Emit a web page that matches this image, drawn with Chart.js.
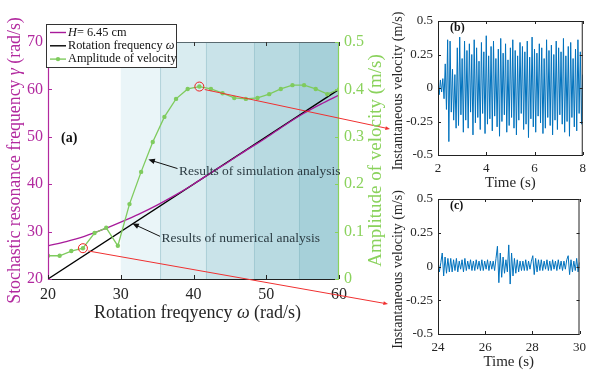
<!DOCTYPE html>
<html>
<head>
<meta charset="utf-8">
<script src="https://cdn.jsdelivr.net/npm/chart.js@4.4.1/dist/chart.umd.min.js"></script>
<style>
  html, body { margin: 0; padding: 0; background: #fff; }
  #wrap { position: relative; width: 592px; height: 372px; overflow: hidden; background: #fff; }
  canvas { position: absolute; }
</style>
</head>
<body>
<div id="wrap">
  <canvas id="mainChart" width="395" height="372" style="left:0;top:0;width:395px;height:372px"></canvas>
  <canvas id="chartB" width="202" height="190" style="left:390px;top:0;width:202px;height:190px"></canvas>
  <canvas id="chartC" width="202" height="187" style="left:390px;top:185px;width:202px;height:187px"></canvas>
</div>
<script>
// ---- data ----
let omega = [20, 21.6, 23.2, 24.8, 26.4, 28, 29.6, 31.2, 32.8, 34.4, 36, 37.6, 39.2,
             40.8, 42.4, 44, 45.6, 47.2, 48.8, 50.4, 52, 53.6, 55.2, 56.8, 58.4, 60];
let amplitude = [0.049, 0.049, 0.059, 0.065, 0.097, 0.108, 0.070, 0.158, 0.226, 0.289, 0.342, 0.380, 0.401,
                 0.406, 0.401, 0.392, 0.382, 0.380, 0.382, 0.390, 0.401, 0.409, 0.409, 0.401, 0.390, 0.400];

let gammaOmega = [20, 22.5, 25, 27.5, 30, 32.5, 35, 37.5, 40, 42.5, 45, 47.5, 50, 52.5, 55, 57.5, 60];
let gammaH645 = [27.0, 27.9, 29.0, 30.4, 32.0, 33.7, 35.6, 37.7, 40.0, 42.5, 44.9, 47.4, 49.8, 52.4, 54.8, 56.9, 58.8];

let rotOmega = [20, 60];
let rotFreq = [20, 60];

let bandEdges = [30, 35.4, 41.7, 48.3, 54.5, 60];
let bandColors = ['#eaf5f8', '#d9ecf0', '#c9e3e9', '#b8dae1', '#a6d0d9'];

let xTicksMain = [20, 30, 40, 50, 60];
let circled = [3, 13]; // indices of the circled amplitude points

// panel (b): t = 2 .. 8 s
let tStartB = 2, dtB = 0.05;
let velB = [0.04, -0.05, 0.06, -0.03, 0.07, -0.08, 0.18, -0.16, 0.36, -0.40, 0.35, -0.18, 0.14, -0.24, 0.10, -0.30,
  0.30, -0.28, 0.38, -0.20, 0.22, -0.33, 0.35, -0.24, 0.28, -0.30, 0.33, -0.18, 0.25, -0.35, 0.36, -0.26, 0.30, -0.22, 0.20, -0.31,
  0.34, -0.19, 0.27, -0.34, 0.39, -0.27, 0.24, -0.23, 0.31, -0.32, 0.35, -0.21, 0.22, -0.29, 0.29, -0.36, 0.37, -0.25, 0.26, -0.20,
  0.33, -0.33, 0.21, -0.28, 0.30, -0.22, 0.36, -0.30, 0.28, -0.35, 0.24, -0.24, 0.34, -0.19, 0.31, -0.31, 0.27, -0.27, 0.35, -0.37,
  0.23, -0.23, 0.38, -0.29, 0.29, -0.33, 0.26, -0.21, 0.33, -0.26, 0.30, -0.34, 0.22, -0.30, 0.36, -0.22, 0.28, -0.28, 0.32, -0.35,
  0.25, -0.24, 0.35, -0.31, 0.30, -0.20, 0.27, -0.27, 0.37, -0.33, 0.24, -0.25, 0.31, -0.36, 0.34, -0.22, 0.22, -0.29, 0.29, -0.32,
  0.36, -0.19, 0.27, -0.27, 0.10];

// panel (c): t = 24 .. 30 s
let tStartC = 24, dtC = 0.06;
let velC = [0.05, -0.04, 0.03, 0.10, -0.07, 0.07, -0.05, 0.06, -0.04, 0.06,
  -0.04, 0.05, -0.03, 0.06, -0.04, 0.04, -0.02, 0.05, -0.04, 0.06,
  -0.03, 0.04, -0.02, 0.05, -0.03, 0.04, -0.03, 0.05, -0.02, 0.04,
  -0.03, 0.05, -0.03, 0.04, -0.02, 0.05, -0.03, 0.04, -0.02, 0.04,
  -0.03, 0.06, 0.15, -0.12, 0.10, -0.08, 0.07, -0.05, 0.05, -0.04,
  0.16, -0.13, 0.10, -0.07, 0.06, -0.05, 0.05, -0.04, 0.04, -0.03,
  0.04, -0.03, 0.05, -0.03, 0.04, -0.02, 0.04, 0.08, -0.06, 0.06,
  -0.04, 0.05, -0.03, 0.05, -0.03, 0.04, -0.02, 0.05, -0.03, 0.04,
  -0.03, 0.05, -0.02, 0.04, -0.03, 0.05, -0.02, 0.04, -0.03, 0.04,
  -0.02, 0.05, 0.08, -0.06, 0.05, -0.04, 0.04, -0.03, 0.06, -0.04,
  0.03];

let velTicks = [-0.5, -0.25, 0, 0.25, 0.5];

// ---- styles ----
let serif = "'Liberation Serif', 'Times New Roman', serif";
let purple = '#b22a9f';
let purpleLine = '#a81a9a';
let green = '#8ad25c';
let greenLine = '#7fcb5e';
let textDark = '#262626';
let blue = '#0072bd';

function pairs(xs, ys) {
    return xs.map(function (x, i) { return { x: x, y: ys[i] }; });
}

// draws text made of [string, italic] pieces
function drawParts(ctx, parts, x, y, size, color, opts) {
    opts = opts || {};
    ctx.save();
    ctx.translate(x, y);
    if (opts.rotate) ctx.rotate(-Math.PI / 2);
    ctx.fillStyle = color;
    ctx.textBaseline = 'middle';
    ctx.textAlign = 'left';
    let weight = opts.bold ? 'bold ' : '';
    let widths = parts.map(function (p) {
        ctx.font = (p[1] ? 'italic ' : '') + weight + size + 'px ' + serif;
        return ctx.measureText(p[0]).width;
    });
    let total = widths.reduce(function (s, w) { return s + w; }, 0);
    let cx = opts.left ? 0 : -total / 2;
    parts.forEach(function (p, i) {
        ctx.font = (p[1] ? 'italic ' : '') + weight + size + 'px ' + serif;
        ctx.fillText(p[0], cx, 0);
        cx += widths[i];
    });
    ctx.restore();
}

function arrow(ctx, x0, y0, x1, y1, color, width, head) {
    let ang = Math.atan2(y1 - y0, x1 - x0);
    ctx.save();
    ctx.strokeStyle = color;
    ctx.fillStyle = color;
    ctx.lineWidth = width;
    ctx.beginPath();
    ctx.moveTo(x0, y0);
    ctx.lineTo(x1 - Math.cos(ang) * head * 0.6, y1 - Math.sin(ang) * head * 0.6);
    ctx.stroke();
    ctx.beginPath();
    ctx.moveTo(x1, y1);
    ctx.lineTo(x1 - head * Math.cos(ang - 0.4), y1 - head * Math.sin(ang - 0.4));
    ctx.lineTo(x1 - head * Math.cos(ang + 0.4), y1 - head * Math.sin(ang + 0.4));
    ctx.closePath();
    ctx.fill();
    ctx.restore();
}

function line(ctx, x0, y0, x1, y1, color, w) {
    ctx.strokeStyle = color;
    ctx.lineWidth = w;
    ctx.beginPath();
    ctx.moveTo(x0, y0);
    ctx.lineTo(x1, y1);
    ctx.stroke();
}

// ---- main panel (a) ----
let mainDecor = {
    id: 'mainDecor',
    beforeDatasetsDraw: function (chart) {
        let ctx = chart.ctx, a = chart.chartArea, x = chart.scales.x;
        ctx.save();
        for (let i = 0; i < bandColors.length; i++) {
            let x0 = x.getPixelForValue(bandEdges[i]);
            let x1 = x.getPixelForValue(bandEdges[i + 1]);
            ctx.fillStyle = bandColors[i];
            ctx.fillRect(x0, a.top, x1 - x0, a.bottom - a.top);
            if (i > 0) line(ctx, x0 + 0.5, a.top, x0 + 0.5, a.bottom, 'rgba(130,180,190,0.45)', 1);
        }
        ctx.restore();
    },
    afterDatasetsDraw: function (chart) {
        let ctx = chart.ctx, a = chart.chartArea;
        let x = chart.scales.x, yL = chart.scales.yL, yR = chart.scales.yR;
        ctx.save();

        // box
        line(ctx, a.left, a.top + 0.5, a.right, a.top + 0.5, '#5a6a70', 1);
        line(ctx, a.left, a.bottom + 0.5, a.right, a.bottom + 0.5, '#222', 1);
        line(ctx, a.left + 0.5, a.top, a.left + 0.5, a.bottom + 1, purple, 1.2);
        line(ctx, a.right - 0.5, a.top, a.right - 0.5, a.bottom + 1, green, 1.2);

        // inward ticks
        x.ticks.forEach(function (t) {
            let px = Math.round(x.getPixelForValue(t.value)) + 0.5;
            line(ctx, px, a.bottom, px, a.bottom - 4, '#222', 1);
            line(ctx, px, a.top, px, a.top + 4, '#333', 1);
        });
        yL.ticks.forEach(function (t) {
            let py = Math.round(yL.getPixelForValue(t.value)) + 0.5;
            line(ctx, a.left, py, a.left + 4, py, purple, 1);
        });
        yR.ticks.forEach(function (t) {
            let py = Math.round(yR.getPixelForValue(t.value)) + 0.5;
            line(ctx, a.right, py, a.right - 4, py, green, 1);
        });

        // red circles and leader arrows towards panels (c) and (b)
        let targets = [[a.right + 49, a.bottom + 25], [a.right + 51, a.top + 87]];
        circled.forEach(function (idx, k) {
            let cx = x.getPixelForValue(omega[idx]);
            let cy = yR.getPixelForValue(amplitude[idx]);
            ctx.strokeStyle = '#ee2020';
            ctx.lineWidth = 1;
            ctx.beginPath();
            ctx.arc(cx, cy, 4.5, 0, Math.PI * 2);
            ctx.stroke();
            let tx = targets[k][0], ty = targets[k][1];
            let ang = Math.atan2(ty - cy, tx - cx);
            arrow(ctx, cx + 4.5 * Math.cos(ang) + 1, cy + 4.5 * Math.sin(ang) + 2, tx, ty, '#f03030', 1, 5);
        });

        // annotations
        arrow(ctx, x.getPixelForValue(37.8), yL.getPixelForValue(43.3),
              x.getPixelForValue(33.8), yL.getPixelForValue(45.2), '#111', 1, 7);
        drawParts(ctx, [['Results of simulation analysis', false]],
                  x.getPixelForValue(38.0), yL.getPixelForValue(42.7), 13.5, '#2b3b42', { left: true });
        arrow(ctx, x.getPixelForValue(35.4), yL.getPixelForValue(29.0),
              x.getPixelForValue(31.6), yL.getPixelForValue(31.7), '#111', 1, 7);
        drawParts(ctx, [['Results of numerical analysis', false]],
                  x.getPixelForValue(35.6), yL.getPixelForValue(28.5), 13.5, '#2b3b42', { left: true });
        drawParts(ctx, [['(a)', false]], a.left + 13, yL.getPixelForValue(49.6), 14, '#111', { left: true, bold: true });

        // legend
        let lx = a.left - 2, ly = a.top - 18, lw = 130, lh = 43;
        ctx.fillStyle = '#fff';
        ctx.fillRect(lx, ly, lw, lh);
        ctx.strokeStyle = '#333';
        ctx.lineWidth = 1;
        ctx.strokeRect(lx + 0.5, ly + 0.5, lw, lh);
        let rows = [
            [[['H', true], ['= 6.45 cm', false]], purpleLine, false],
            [[['Rotation frequency ', false], ['\u03c9', true]], '#000', false],
            [[['Amplitude of velocity', false]], greenLine, true]
        ];
        rows.forEach(function (r, i) {
            let ry = ly + 8.5 + i * 13.3;
            line(ctx, lx + 4, ry, lx + 20, ry, r[1], 1.4);
            if (r[2]) {
                ctx.fillStyle = r[1];
                ctx.beginPath();
                ctx.arc(lx + 12, ry, 2.2, 0, Math.PI * 2);
                ctx.fill();
            }
            drawParts(ctx, r[0], lx + 22, ry, 12.3, '#111', { left: true });
        });

        // axis titles
        let midY = (a.top + a.bottom) / 2;
        drawParts(ctx, [['Stochastic resonance frequency ', false], ['\u03b3', true], [' (rad/s)', false]],
                  15, midY, 17.8, purple, { rotate: true });
        drawParts(ctx, [['Amplitude of velocity (m/s)', false]], a.right + 37, midY, 19, green, { rotate: true });
        drawParts(ctx, [['Rotation freqyency ', false], ['\u03c9', true], [' (rad/s)', false]],
                  (a.left + a.right) / 2 + 4, a.bottom + 34, 18, textDark);
        ctx.restore();
    }
};

let tickFont = { family: serif, size: 16 };

new Chart(document.getElementById('mainChart').getContext('2d'), {
    type: 'line',
    data: {
        datasets: [
            {
                label: 'Amplitude of velocity',
                data: pairs(omega, amplitude),
                yAxisID: 'yR',
                borderColor: greenLine,
                backgroundColor: greenLine,
                borderWidth: 1.3,
                pointRadius: 2.2,
                pointBorderWidth: 0,
                pointBackgroundColor: greenLine
            },
            {
                label: 'H= 6.45 cm',
                data: pairs(gammaOmega, gammaH645),
                yAxisID: 'yL',
                borderColor: purpleLine,
                borderWidth: 1.3,
                pointRadius: 0,
                cubicInterpolationMode: 'monotone'
            },
            {
                label: 'Rotation frequency',
                data: pairs(rotOmega, rotFreq),
                yAxisID: 'yL',
                borderColor: '#000',
                borderWidth: 1.3,
                pointRadius: 0
            }
        ]
    },
    options: {
        responsive: false,
        animation: false,
        devicePixelRatio: 1,
        layout: { padding: { top: 42, left: 0, right: 0, bottom: 0 } },
        plugins: { legend: { display: false }, tooltip: { enabled: false } },
        scales: {
            x: {
                type: 'linear', min: 20, max: 60,
                grid: { display: false, drawTicks: false }, border: { display: false },
                afterBuildTicks: function (s) { s.ticks = xTicksMain.map(function (v) { return { value: v }; }); },
                ticks: { padding: 6, color: textDark, font: tickFont, maxRotation: 0, autoSkip: false },
                afterFit: function (s) { s.height = 93; }
            },
            yL: {
                position: 'left', min: 20, max: 70,
                grid: { display: false, drawTicks: false }, border: { display: false },
                ticks: { stepSize: 10, padding: 5, color: purple, font: tickFont },
                afterFit: function (s) { s.width = 48; }
            },
            yR: {
                position: 'right', min: 0, max: 0.5,
                grid: { display: false, drawTicks: false }, border: { display: false },
                ticks: {
                    stepSize: 0.1, padding: 5, color: green, font: tickFont,
                    callback: function (v) { return v === 0 ? '0' : v.toFixed(1); }
                },
                afterFit: function (s) { s.width = 56; }
            }
        }
    },
    plugins: [mainDecor]
});

// ---- panels (b) and (c) ----
let panelDecor = {
    id: 'panelDecor',
    afterDatasetsDraw: function (chart, args, opts) {
        let ctx = chart.ctx, a = chart.chartArea, x = chart.scales.x, y = chart.scales.y;
        ctx.save();
        ctx.strokeStyle = '#222';
        ctx.lineWidth = 1;
        ctx.strokeRect(a.left + 0.5, a.top + 0.5, a.right - a.left - 1, a.bottom - a.top);
        x.ticks.forEach(function (t) {
            let px = Math.round(x.getPixelForValue(t.value)) + 0.5;
            line(ctx, px, a.bottom, px, a.bottom - 3, '#222', 1);
            line(ctx, px, a.top, px, a.top + 3, '#222', 1);
        });
        y.ticks.forEach(function (t) {
            let py = Math.round(y.getPixelForValue(t.value)) + 0.5;
            line(ctx, a.left, py, a.left + 3, py, '#222', 1);
            line(ctx, a.right, py, a.right - 3, py, '#222', 1);
        });
        drawParts(ctx, [[opts.label, false]], a.left + 12, a.top + 7, 12, '#111', { left: true, bold: true });
        drawParts(ctx, [['Instantaneous velocity (m/s)', false]], 8, (a.top + a.bottom) / 2 + 3, 14, textDark, { rotate: true });
        drawParts(ctx, [['Time (s)', false]], (a.left + a.right) / 2, a.bottom + opts.titleGap, 15, textDark);
        ctx.restore();
    }
};

function makePanel(id, tStart, dt, vel, xMin, xMax, padTop, xHeight, label, titleGap) {
    let pts = vel.map(function (v, i) { return { x: tStart + i * dt, y: v }; });
    let smallFont = { family: serif, size: 13 };
    return new Chart(document.getElementById(id).getContext('2d'), {
        type: 'line',
        data: {
            datasets: [{
                data: pts,
                borderColor: blue,
                borderWidth: 1,
                pointRadius: 0,
                tension: 0
            }]
        },
        options: {
            responsive: false,
            animation: false,
            devicePixelRatio: 1,
            layout: { padding: { top: padTop, right: 6, left: 0, bottom: 0 } },
            plugins: { legend: { display: false }, tooltip: { enabled: false }, panelDecor: { label: label, titleGap: titleGap } },
            scales: {
                x: {
                    type: 'linear', min: xMin, max: xMax,
                    grid: { display: false, drawTicks: false }, border: { display: false },
                    ticks: { stepSize: 2, padding: 6, color: textDark, font: smallFont, maxRotation: 0 },
                    afterFit: function (s) { s.height = xHeight; }
                },
                y: {
                    min: -0.5, max: 0.5,
                    grid: { display: false, drawTicks: false }, border: { display: false },
                    afterBuildTicks: function (s) { s.ticks = velTicks.map(function (v) { return { value: v }; }); },
                    ticks: { padding: 5, color: textDark, font: smallFont, callback: function (v) { return String(v); } },
                    afterFit: function (s) { s.width = 48; }
                }
            }
        },
        plugins: [panelDecor]
    });
}

makePanel('chartB', tStartB, dtB, velB, 2, 8, 21, 35, '(b)', 28);
makePanel('chartC', tStartC, dtC, velC, 24, 30, 14, 38, '(c)', 28);
</script>
</body>
</html>
